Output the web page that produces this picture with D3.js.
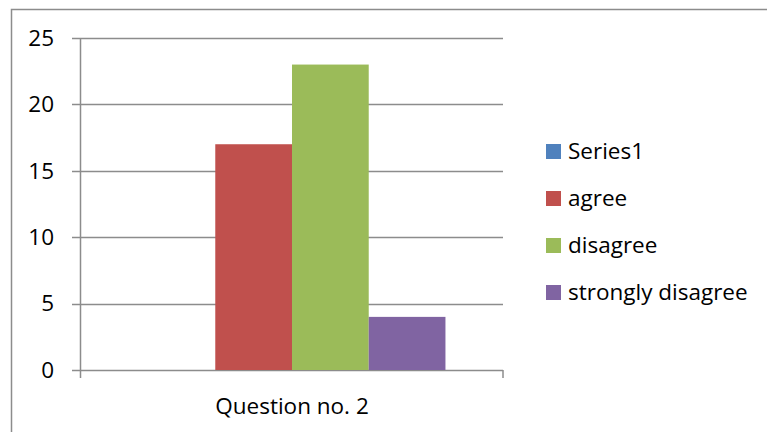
<!DOCTYPE html>
<html>
<head>
<meta charset="utf-8">
<script src="https://cdn.jsdelivr.net/npm/d3@7"></script>
<style>
  html, body { margin: 0; padding: 0; background: #fff; }
  svg { display: block; font-family: "Open Sans", Lato, sans-serif; }
</style>
</head>
<body>
<svg id="chart" width="767" height="432"></svg>
<script>
const category = "Question no. 2"
const seriesNames = ["Series1", "agree", "disagree", "strongly disagree"]
const seriesValues = [0, 17, 23, 4]
const seriesColors = ["#4f81bd", "#c0504d", "#9bbb59", "#8064a2"]
const yTicks = [0, 5, 10, 15, 20, 25]

const svg = d3.select("#chart")
const m = {left: 81, top: 38, right: 264, bottom: 62}
const W = 767, H = 432
const iw = W - m.left - m.right
const ih = H - m.top - m.bottom
const fs = 22.5

// chart frame (runs off the right and bottom edges)
svg.append("rect")
  .attr("x", 11.5).attr("y", 9.5)
  .attr("width", 780).attr("height", 440)
  .attr("fill", "none").attr("stroke", "#8c8c8c").attr("stroke-width", 1.5)

const root = svg.append("g").attr("transform", `translate(${m.left},${m.top})`)

const y = d3.scaleLinear().domain([0, 25]).range([ih, 0])
const x0 = d3.scaleBand().domain([category]).range([0, iw])
const x1 = d3.scaleBand().domain(seriesNames).range([0, x0.bandwidth()])
  .paddingOuter(0.75).paddingInner(0)

// gridlines + y ticks
root.append("g").selectAll("line").data(yTicks).join("line")
  .attr("x1", -9).attr("x2", iw)
  .attr("y1", d => Math.round(y(d)) + 0.5).attr("y2", d => Math.round(y(d)) + 0.5)
  .attr("stroke", "#8c8c8c").attr("stroke-width", 1.5)

root.append("g").selectAll("text").data(yTicks).join("text")
  .attr("x", -27).attr("y", d => y(d)).attr("dy", "0.35em")
  .attr("text-anchor", "end").attr("font-size", fs).attr("fill", "#000")
  .text(d => d)

// bars
root.append("g").selectAll("rect")
  .data(seriesNames.map((k, i) => ({k, v: seriesValues[i], c: seriesColors[i]})))
  .join("rect")
  .attr("x", d => x0(category) + x1(d.k))
  .attr("width", x1.bandwidth())
  .attr("y", d => y(d.v))
  .attr("height", d => ih - y(d.v))
  .attr("fill", d => d.c)

// axes lines
root.append("line").attr("x1", -0.5).attr("x2", -0.5).attr("y1", 0).attr("y2", ih + 8)
  .attr("stroke", "#8c8c8c").attr("stroke-width", 1.5)
root.append("line").attr("x1", iw).attr("x2", iw).attr("y1", ih).attr("y2", ih + 8)
  .attr("stroke", "#8c8c8c").attr("stroke-width", 1.5)

root.append("text")
  .attr("x", x0(category) + x0.bandwidth() / 2).attr("y", ih + 44)
  .attr("text-anchor", "middle").attr("font-size", fs).attr("fill", "#000")
  .text(category)

// legend
const legend = svg.append("g").attr("transform", "translate(546,151)")
const li = legend.selectAll("g").data(seriesNames).join("g")
  .attr("transform", (d, i) => `translate(0,${i * 47})`)
li.append("rect").attr("x", 0).attr("y", -7).attr("width", 15).attr("height", 15)
  .attr("fill", (d, i) => seriesColors[i])
li.append("text").attr("x", 22).attr("y", 0).attr("dy", "0.35em")
  .attr("font-size", fs).attr("fill", "#000").text(d => d)
</script>
</body>
</html>
